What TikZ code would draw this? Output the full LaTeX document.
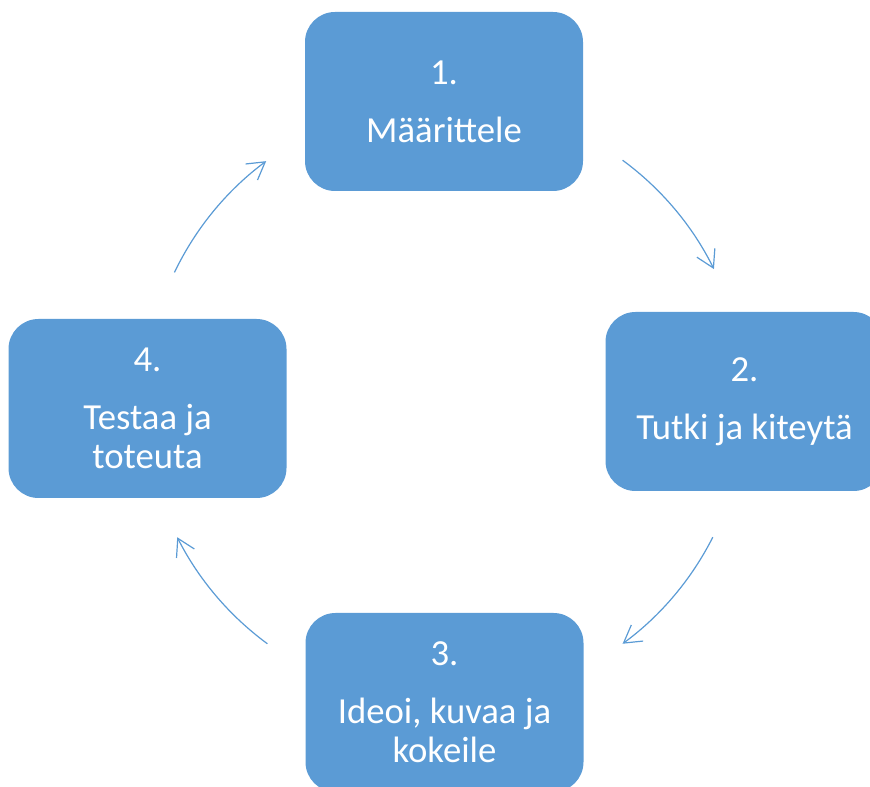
\documentclass[tikz,border=0pt]{standalone}
\usepackage{fontspec}
\setmainfont{Carlito}
\usetikzlibrary{arrows.meta,calc}
\definecolor{stepblue}{HTML}{5B9BD5}
\begin{document}
\begin{tikzpicture}[x=1pt,y=1pt,
  stepbox/.style={fill=stepblue, rounded corners=30pt,
    minimum width=278pt, minimum height=179pt, inner sep=0pt,
    text=white, align=center, font=\fontsize{36.7}{39.3}\selectfont},
  cyclearrow/.style={draw=stepblue, line width=1.2pt,
    -{Straight Barb[length=17pt,width=20pt]}}]
\useasboundingbox (0,0) rectangle (870,787);
\clip (0,0) rectangle (870,787);

% centre of the cycle
\coordinate (c) at (445,385);

% the four steps
\node[stepbox] (s1) at (444,685.5) {1.\\[18.7pt]Määrittele};
\node[stepbox] (s2) at (744.5,385.5) {2.\\[18.7pt]Tutki ja kiteytä};
\node[stepbox] (s3) at (444.5,84.5) {3.\\[18.7pt]Ideoi, kuvaa ja\\kokeile};
\node[stepbox] (s4) at (147.5,378.5) {4.\\[18.7pt]Testaa ja\\toteuta};

% arc ends between the steps
\coordinate (a1s) at ($(c)+(53.7:300)$);
\coordinate (a2s) at ($(c)+(-26.8:300)$);
\coordinate (a3s) at ($(c)+(-126.3:300)$);
\coordinate (a4s) at ($(c)+(154.4:300)$);

\draw[cyclearrow] (a1s) arc[start angle=53.7, end angle=26.3, radius=300];
\draw[cyclearrow] (a2s) arc[start angle=-26.8, end angle=-53.7, radius=300];
\draw[cyclearrow] (a3s) arc[start angle=-126.3, end angle=-153.2, radius=300];
\draw[cyclearrow] (a4s) arc[start angle=154.4, end angle=126.6, radius=300];
\end{tikzpicture}
\end{document}
